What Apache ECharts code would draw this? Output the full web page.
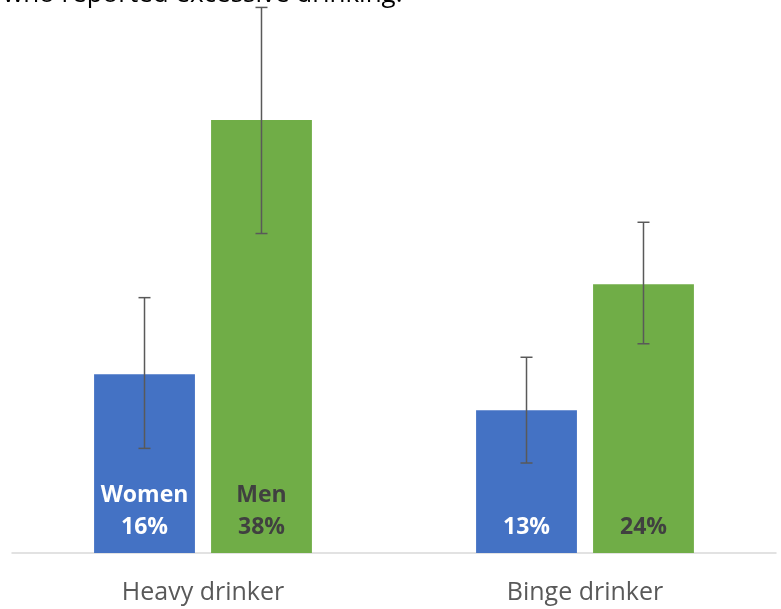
<!DOCTYPE html>
<html><head><meta charset="utf-8">
<script src="https://cdn.jsdelivr.net/npm/echarts@6/dist/echarts.min.js"></script>
<style>html,body{margin:0;padding:0;background:#fff}#c{width:781px;height:609px}</style>
</head><body><div id="c"></div>
<script>
const categories = ['Heavy drinker', 'Binge drinker'];
const women = [15.9, 12.7];
const men = [38.5, 23.9];
const womenLow = [9.3, 8.0];
const womenHigh = [22.7, 17.4];
const menLow = [28.4, 18.6];
const menHigh = [48.5, 29.4];
const womenLabels = ['Women\n16%', '13%'];
const menLabels = ['Men\n38%', '24%'];
const titleText = 'who reported excessive drinking.';

const chart = echarts.init(document.getElementById('c'), null, {renderer: 'canvas'});

function errSeries(low, high, seriesIndexOffset) {
  return {
    type: 'custom',
    z: 10,
    data: categories.map((c, i) => [i, low[i], high[i]]),
    renderItem: function (params, api) {
      const idx = api.value(0);
      const lo = api.coord([idx, api.value(1)]);
      const hi = api.coord([idx, api.value(2)]);
      const band = api.size([1, 0])[0];
      const barW = band * 0.264;
      const gap = barW * 0.16;
      const x = lo[0] + seriesIndexOffset * (barW / 2 + gap / 2);
      const cap = 6;
      const st = {stroke: '#595959', lineWidth: 1.5};
      return {type: 'group', children: [
        {type: 'line', shape: {x1: x, y1: lo[1], x2: x, y2: hi[1]}, style: st},
        {type: 'line', shape: {x1: x - cap, y1: lo[1], x2: x + cap, y2: lo[1]}, style: st},
        {type: 'line', shape: {x1: x - cap, y1: hi[1], x2: x + cap, y2: hi[1]}, style: st}
      ]};
    }
  };
}

chart.setOption({
  animation: false,
  textStyle: {fontFamily: 'Open Sans'},
  graphic: [{
    type: 'text', x: 3, y: 8, z: 100,
    style: {text: titleText, font: '26px "Open Sans"', fill: '#000', verticalAlign: 'bottom', align: 'left'}
  }],
  grid: {left: 12, right: 5, top: 0, bottom: 56},
  xAxis: {
    type: 'category', data: categories,
    axisLine: {lineStyle: {color: '#d9d9d9', width: 1.5}},
    axisTick: {show: false},
    axisLabel: {color: '#595959', fontSize: 25, margin: 27, fontFamily: 'Open Sans'}
  },
  yAxis: {type: 'value', min: 0, max: 49.16, show: false, splitLine: {show: false}},
  series: [
    {
      type: 'bar', data: women, barWidth: '26.4%', barGap: '16%',
      itemStyle: {color: '#4472C4'},
      label: {
        show: true, position: 'insideBottom', distance: 10,
        formatter: p => womenLabels[p.dataIndex],
        color: '#fff', fontWeight: 'bold', fontSize: 23, lineHeight: 32, fontFamily: 'Open Sans'
      }
    },
    {
      type: 'bar', data: men, barWidth: '26.4%',
      itemStyle: {color: '#70AD47'},
      label: {
        show: true, position: 'insideBottom', distance: 10,
        formatter: p => menLabels[p.dataIndex],
        color: '#404040', fontWeight: 'bold', fontSize: 23, lineHeight: 32, fontFamily: 'Open Sans'
      }
    },
    errSeries(womenLow, womenHigh, -1),
    errSeries(menLow, menHigh, 1)
  ]
});
</script></body></html>
